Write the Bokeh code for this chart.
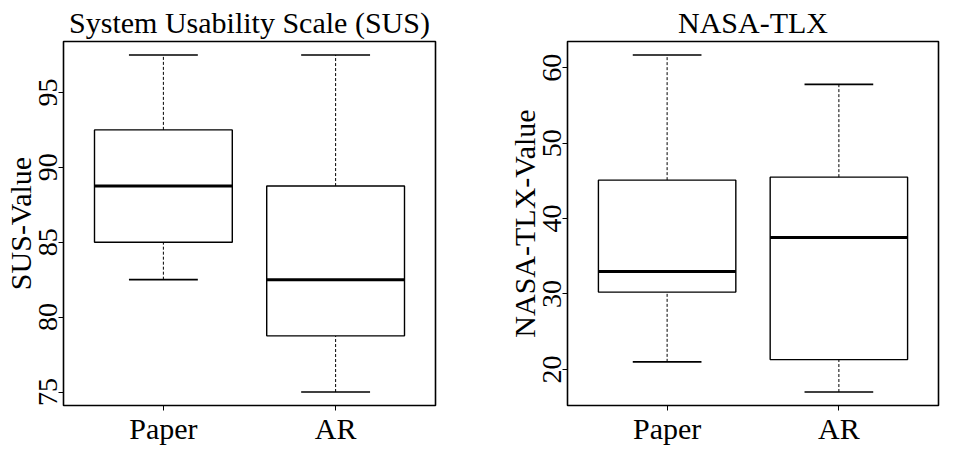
from bokeh.plotting import figure
from bokeh.layouts import row
from bokeh.models import ColumnDataSource, Range1d, FixedTicker
from bokeh.embed import file_html
from bokeh.resources import INLINE

# ---- data ----
groups = ["Paper", "AR"]

sus_min = [82.5, 75.0]
sus_q1 = [85.0, 78.75]
sus_med = [88.75, 82.5]
sus_q3 = [92.5, 88.75]
sus_max = [97.5, 97.5]
sus_ticks = [75, 80, 85, 90, 95]

tlx_min = [21.0, 17.0]
tlx_q1 = [30.25, 21.3]
tlx_med = [33.0, 37.5]
tlx_q3 = [45.1, 45.5]
tlx_max = [61.7, 57.8]
tlx_ticks = [20, 30, 40, 50, 60]

FONT = "Liberation Serif"


def panel(title, ylabel, mn, q1, med, q3, mx, yticks, bl, fw, br):
    xs = list(range(1, len(groups) + 1))
    src = ColumnDataSource(dict(
        x=xs,
        left=[x - 0.4 for x in xs], right=[x + 0.4 for x in xs],
        sl=[x - 0.2 for x in xs], sr=[x + 0.2 for x in xs],
        mn=mn, q1=q1, med=med, q3=q3, mx=mx))
    lo, hi = min(mn), max(mx)
    ext = 0.04 * (hi - lo)
    p = figure(output_backend="svg", toolbar_location=None,
               frame_width=fw, frame_height=364,
               min_border_left=bl, min_border_right=br,
               min_border_top=40, min_border_bottom=37,
               x_range=Range1d(0.5 - 0.08, len(groups) + 0.5 + 0.08),
               y_range=Range1d(lo - ext, hi + ext))
    p.title.text = title
    p.title.align = "center"
    p.title.text_font = FONT
    p.title.text_font_style = "normal"
    p.title.text_font_size = "30px"
    p.title.text_color = "black"
    p.title.standoff = 6
    p.outline_line_color = "black"
    p.outline_line_width = 1.6
    p.grid.visible = False
    p.background_fill_color = "white"
    p.border_fill_color = "white"

    # whiskers (dashed)
    p.segment(x0="x", y0="q3", x1="x", y1="mx", source=src,
              line_color="black", line_width=1, line_dash="3 2")
    p.segment(x0="x", y0="mn", x1="x", y1="q1", source=src,
              line_color="black", line_width=1, line_dash="3 2")
    # staples
    p.segment(x0="sl", y0="mx", x1="sr", y1="mx", source=src,
              line_color="black", line_width=1.6)
    p.segment(x0="sl", y0="mn", x1="sr", y1="mn", source=src,
              line_color="black", line_width=1.6)
    # boxes
    p.quad(left="left", right="right", bottom="q1", top="q3", source=src,
           fill_color="white", line_color="black", line_width=1.4)
    # medians
    p.segment(x0="left", y0="med", x1="right", y1="med", source=src,
              line_color="black", line_width=3)

    # axes
    p.xaxis.ticker = FixedTicker(ticks=xs)
    p.xaxis.major_label_overrides = {x: g for x, g in zip(xs, groups)}
    p.yaxis.ticker = FixedTicker(ticks=yticks)
    p.yaxis.axis_label = ylabel
    for ax in (p.xaxis[0], p.yaxis[0]):
        ax.axis_line_color = None
        ax.major_tick_out = 5
        ax.major_tick_in = 0
        ax.minor_tick_line_color = None
        ax.major_tick_line_color = "black"
        ax.major_label_text_font = FONT
        ax.major_label_text_color = "black"
        ax.axis_label_text_font = FONT
        ax.axis_label_text_font_style = "normal"
        ax.axis_label_text_color = "black"
    p.xaxis.major_label_text_font_size = "30px"
    p.xaxis.major_label_standoff = 1
    p.yaxis.major_label_text_font_size = "28px"
    p.yaxis.major_label_orientation = "vertical"
    p.yaxis.major_label_standoff = 1
    p.yaxis.axis_label_text_font_size = "30px"
    p.yaxis.axis_label_standoff = 0
    return p


p1 = panel("System Usability Scale (SUS)", "SUS-Value",
           sus_min, sus_q1, sus_med, sus_q3, sus_max, sus_ticks, 60, 372, 36)
p2 = panel("NASA-TLX", "NASA-TLX-Value",
           tlx_min, tlx_q1, tlx_med, tlx_q3, tlx_max, tlx_ticks, 96, 371, 2)

layout = row(p1, p2)
open("out.html", "w").write(file_html(layout, INLINE))
